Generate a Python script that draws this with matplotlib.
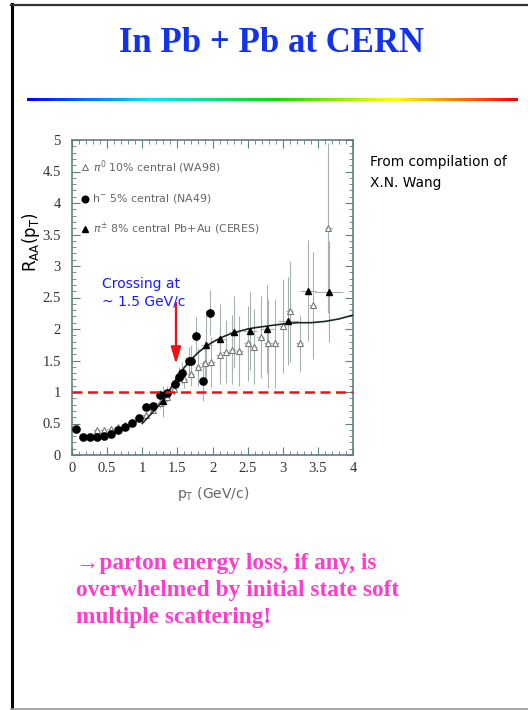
import numpy as np
import matplotlib
matplotlib.use('Agg')
import matplotlib.pyplot as plt
from matplotlib.colors import LinearSegmentedColormap
from matplotlib.lines import Line2D
from matplotlib.ticker import MultipleLocator

# h- 5% central (NA49)
na49_pt = [0.05, 0.15, 0.25, 0.35, 0.45, 0.55, 0.65, 0.75, 0.85, 0.95, 1.05,
           1.15, 1.25, 1.35, 1.46, 1.52, 1.57, 1.66, 1.70, 1.76, 1.86, 1.96]
na49_raa = [0.42, 0.29, 0.29, 0.29, 0.30, 0.34, 0.40, 0.44, 0.51, 0.58, 0.76,
            0.77, 0.95, 0.99, 1.12, 1.24, 1.30, 1.49, 1.49, 1.89, 1.17, 2.26]
na49_err = [0.02, 0.02, 0.02, 0.02, 0.02, 0.02, 0.03, 0.03, 0.04, 0.04, 0.05,
            0.06, 0.08, 0.10, 0.12, 0.15, 0.18, 0.22, 0.25, 0.30, 0.32, 0.36]

# pi0 10% central (WA98)
wa98_pt = [0.35, 0.45, 0.55, 0.65, 0.75, 0.85, 0.95, 1.05, 1.15, 1.25, 1.35,
           1.45, 1.59, 1.69, 1.80, 1.89, 1.98, 2.10, 2.19, 2.28, 2.38, 2.50,
           2.59, 2.69, 2.79, 2.89, 3.00, 3.10, 3.24, 3.43, 3.65]
wa98_raa = [0.40, 0.40, 0.42, 0.44, 0.47, 0.52, 0.58, 0.64, 0.72, 0.82, 0.92,
            1.05, 1.21, 1.29, 1.40, 1.46, 1.48, 1.58, 1.64, 1.67, 1.65, 1.77,
            1.72, 1.88, 1.77, 1.77, 2.05, 2.28, 1.77, 2.38, 3.61]
wa98_err = [0.03, 0.03, 0.03, 0.03, 0.03, 0.04, 0.04, 0.05, 0.06, 0.07, 0.08,
            0.10, 0.15, 0.20, 0.30, 0.35, 0.40, 0.45, 0.50, 0.55, 0.55, 0.60,
            0.60, 0.65, 0.70, 0.70, 0.75, 0.80, 0.45, 0.85, 1.35]

# pi+- 8% central Pb+Au (CERES)
ceres_pt = [1.30, 1.91, 2.11, 2.31, 2.53, 2.78, 3.07, 3.36, 3.66]
ceres_raa = [0.85, 1.75, 1.84, 1.95, 1.97, 2.00, 2.13, 2.61, 2.59]
ceres_err = [0.25, 0.55, 0.55, 0.57, 0.62, 0.70, 0.70, 0.80, 0.80]
ceres_xerr = [0.05, 0.08, 0.08, 0.08, 0.10, 0.10, 0.14, 0.11, 0.20]

# model curve
curve_pt = [1.0, 1.1, 1.2, 1.3, 1.4, 1.5, 1.6, 1.7, 1.8, 1.9, 2.0, 2.1, 2.2,
            2.3, 2.4, 2.5, 2.6, 2.8, 3.0, 3.2, 3.4, 3.6, 3.8, 4.0]
curve_raa = [0.50, 0.62, 0.74, 0.87, 1.05, 1.24, 1.39, 1.52, 1.63, 1.72, 1.79,
             1.85, 1.90, 1.94, 1.97, 2.00, 2.02, 2.05, 2.08, 2.10, 2.10, 2.12,
             2.16, 2.22]

xticks = [0, 0.5, 1, 1.5, 2, 2.5, 3, 3.5, 4]
yticks = [0, 0.5, 1, 1.5, 2, 2.5, 3, 3.5, 4, 4.5, 5]

W, H = 528, 710
fig = plt.figure(figsize=(W / 100, H / 100), dpi=100)
fig.patch.set_facecolor('white')


def fx(px):
    return px / W


def fy(py):
    return 1 - py / H


# slide frame
fig.add_artist(Line2D([fx(12), fx(12)], [fy(4), fy(709)], color='black', lw=2.2))
fig.add_artist(Line2D([fx(11), fx(540)], [fy(4.5), fy(4.5)], color='#333333', lw=1.6))
fig.add_artist(Line2D([fx(11), fx(540)], [fy(708.5), fy(708.5)], color='#999999', lw=1.2))

# title
fig.text(fx(272), fy(43), 'In Pb + Pb at CERN', ha='center', va='center',
         fontsize=25, fontweight='bold', family='Liberation Serif', color='#1233ee')

# rainbow rule
rainbow = LinearSegmentedColormap.from_list(
    'rb', ['#0000ff', '#00e8ff', '#00e000', '#ffff00', '#ff0000'])
rax = fig.add_axes([fx(27), fy(101.5), fx(518) - fx(27), 3.2 / H])
rax.imshow(np.linspace(0, 1, 400)[None, :], cmap=rainbow, aspect='auto')
rax.axis('off')

# main plot
ax = fig.add_axes([fx(72), fy(455), fx(353) - fx(72), fy(140) - fy(455)])
ax.set_xlim(0, 4)
ax.set_ylim(0, 5)

bar_col = '#a4b2b2'
ax.errorbar(wa98_pt, wa98_raa, yerr=wa98_err, xerr=0.05, fmt='none',
            ecolor=bar_col, elinewidth=0.8, capsize=0, zorder=2)
ax.errorbar(ceres_pt, ceres_raa, yerr=ceres_err, xerr=ceres_xerr, fmt='none',
            ecolor=bar_col, elinewidth=0.8, capsize=0, zorder=2)
ax.errorbar(na49_pt, na49_raa, yerr=na49_err, fmt='none',
            ecolor=bar_col, elinewidth=0.8, capsize=0, zorder=2)

ax.plot(wa98_pt, wa98_raa, ls='none', marker='^', ms=5, mfc='white',
        mec='#777777', mew=0.8, zorder=3)
ax.plot(curve_pt, curve_raa, color='#1c2828', lw=1.2, zorder=4)
ax.plot(na49_pt, na49_raa, ls='none', marker='o', ms=5.2, color='black', zorder=5)
ax.plot(ceres_pt, ceres_raa, ls='none', marker='^', ms=5, color='black', zorder=5)

ax.axhline(1, color='#ee1111', lw=1.8, ls=(0, (4, 2.2)), zorder=6)
ax.annotate('', xy=(1.48, 1.40), xytext=(1.48, 2.46),
            arrowprops=dict(arrowstyle='-|>,head_width=0.3,head_length=1.0',
                            color='#ee1111', lw=1.6), zorder=7)
ax.text(0.43, 2.72, 'Crossing at', color='#1a1aff', fontsize=10,
        family='DejaVu Sans', va='center')
ax.text(0.43, 2.43, '~ 1.5 GeV/c', color='#1a1aff', fontsize=10,
        family='DejaVu Sans', va='center')

# legend entries
leg_col = '#666666'
leg_size = 7.9
ax.plot([0.048], [0.915], marker='^', ms=4.5, mfc='white', mec=leg_col,
        mew=0.7, transform=ax.transAxes, clip_on=False)
ax.text(0.074, 0.915, r'$\pi^0$ 10% central (WA98)', transform=ax.transAxes,
        fontsize=leg_size, color=leg_col, va='center')
ax.plot([0.048], [0.813], marker='o', ms=4.8, color='black',
        transform=ax.transAxes, clip_on=False)
ax.text(0.070, 0.813, r'h$^{-}$ 5% central (NA49)', transform=ax.transAxes,
        fontsize=leg_size, color=leg_col, va='center')
ax.plot([0.048], [0.717], marker='^', ms=4.5, color='black',
        transform=ax.transAxes, clip_on=False)
ax.text(0.074, 0.717, r'$\pi^{\pm}$ 8% central Pb+Au (CERES)', transform=ax.transAxes,
        fontsize=leg_size, color=leg_col, va='center')

# axes styling
frame_col = '#5f7f7f'
for sp in ax.spines.values():
    sp.set_color(frame_col)
    sp.set_linewidth(1.2)
ax.set_xticks(xticks)
ax.set_yticks(yticks)
ax.set_xticklabels(['%g' % t for t in xticks])
ax.set_yticklabels(['%g' % t for t in yticks])
ax.xaxis.set_minor_locator(MultipleLocator(0.1))
ax.yaxis.set_minor_locator(MultipleLocator(0.1))
ax.tick_params(which='both', direction='in', top=True, right=True,
               color=frame_col, labelcolor='#333333')
ax.tick_params(which='major', length=6, width=0.8, labelsize=10.5)
ax.tick_params(which='minor', length=3, width=0.6)
ax.tick_params(axis='y', pad=8)
ax.tick_params(axis='x', pad=5)
for lab in ax.get_xticklabels() + ax.get_yticklabels():
    lab.set_family('Liberation Serif')

fig.text(fx(213), fy(494), r'p$_\mathregular{T}$ (GeV/c)', ha='center', va='center',
         fontsize=10, color='#666666')
fig.text(fx(31), fy(242), r'R$_\mathregular{AA}$(p$_\mathregular{T}$)', ha='center',
         va='center', rotation=90, fontsize=12, color='black')

# side note
fig.text(fx(370), fy(162), 'From compilation of', fontsize=9.9, va='center',
         color='black')
fig.text(fx(370), fy(183), 'X.N. Wang', fontsize=9.9, va='center', color='black')

# conclusion text
pink = '#ff3dcc'
lines = ['\u2192parton energy loss, if any, is',
         'overwhelmed by initial state soft',
         'multiple scattering!']
for i, s in enumerate(lines):
    fig.text(fx(76), fy(564 + 26.5 * i), s, fontsize=16.8, fontweight='bold',
             family='Liberation Serif', color=pink, va='center')

fig.savefig('out.png', dpi=100)
